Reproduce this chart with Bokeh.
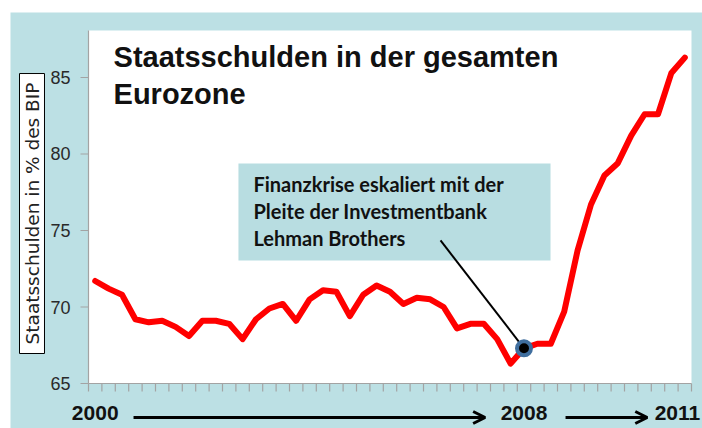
import numpy as np
from bokeh.plotting import figure
from bokeh.models import Range1d, Arrow, OpenHead, BoxAnnotation
from bokeh.core.properties import value
from bokeh.embed import file_html
from bokeh.resources import INLINE

# ---------------- data ----------------
quarters = ["2000Q1", "2000Q2", "2000Q3", "2000Q4", "2001Q1", "2001Q2", "2001Q3", "2001Q4",
            "2002Q1", "2002Q2", "2002Q3", "2002Q4", "2003Q1", "2003Q2", "2003Q3", "2003Q4",
            "2004Q1", "2004Q2", "2004Q3", "2004Q4", "2005Q1", "2005Q2", "2005Q3", "2005Q4",
            "2006Q1", "2006Q2", "2006Q3", "2006Q4", "2007Q1", "2007Q2", "2007Q3", "2007Q4",
            "2008Q1", "2008Q2", "2008Q3", "2008Q4", "2009Q1", "2009Q2", "2009Q3", "2009Q4",
            "2010Q1", "2010Q2", "2010Q3", "2010Q4", "2011Q1"]
debt = [71.7, 71.2, 70.8, 69.2, 69.0, 69.1, 68.7, 68.1, 69.1, 69.1, 68.9, 67.9,
        69.2, 69.9, 70.2, 69.1, 70.5, 71.1, 71.0, 69.4, 70.8, 71.4, 71.0, 70.2,
        70.6, 70.5, 70.0, 68.6, 68.9, 68.9, 67.9, 66.3, 67.3, 67.6, 67.6, 69.7,
        73.7, 76.7, 78.6, 79.4, 81.2, 82.6, 82.6, 85.3, 86.3]
y_ticks = [65, 70, 75, 80, 85]
year_labels = ["2000", "2008", "2011"]
year_index = [0, 32, 44]
lehman_index = 32

title_lines = ["Staatsschulden in der gesamten", "Eurozone"]
note_lines = ["Finanzkrise eskaliert mit der", "Pleite der  Investmentbank", "Lehman Brothers"]
y_label = "Staatsschulden in % des BIP"

BG = "#BCE0E4"
BOX = "#B8DDE1"
GRAY = "#A3A3A3"

n = len(quarters)
x = np.arange(n)

# plotting area extents (data units)
X_LO, X_HI = -0.5, n - 0.5
Y_LO, Y_HI = 65, 88.07
PX_X = 13.4   # px per quarter
PX_Y = 15.3   # px per percentage point

p = figure(width=692, height=416, output_backend="svg", toolbar_location=None,
           x_range=Range1d(-6.321, 45.321), y_range=Range1d(62.059, 89.248),
           min_border=0, margin=(12, 0, 0, 10))
p.axis.visible = False
p.grid.visible = False
p.background_fill_color = BG
p.border_fill_color = BG
p.outline_line_color = None

# white plotting area
p.add_layout(BoxAnnotation(left=X_LO, right=X_HI, bottom=Y_LO, top=Y_HI,
                           fill_color="white", fill_alpha=1.0, line_color=None, level="underlay"))
# annotation box
p.add_layout(BoxAnnotation(left=10.69, right=33.98, bottom=73.04, top=79.38,
                           fill_color=BOX, fill_alpha=1.0, line_color=None, level="underlay"))

# axes drawn from the scales
bounds = [i - 0.5 for i in range(n + 1)]
tick_len_y = 8 / PX_Y
tick_len_x = 8 / PX_X
p.segment(x0=[X_LO], y0=[Y_LO], x1=[X_HI], y1=[Y_LO], line_color=GRAY, line_width=1.2)
p.segment(x0=[X_LO], y0=[Y_LO], x1=[X_LO], y1=[Y_HI], line_color=GRAY, line_width=1.2)
p.segment(x0=bounds, y0=[Y_LO] * len(bounds), x1=bounds, y1=[Y_LO - tick_len_y] * len(bounds),
          line_color=GRAY, line_width=1.2)
p.segment(x0=[X_LO] * len(y_ticks), y0=y_ticks, x1=[X_LO - tick_len_x] * len(y_ticks), y1=y_ticks,
          line_color=GRAY, line_width=1.2)
p.text(x=[X_LO - 18 / PX_X] * len(y_ticks), y=y_ticks, text=[str(t) for t in y_ticks],
       text_align="right", text_baseline="middle", text_font=value("Liberation Sans"),
       text_font_size="18px", text_color="#2A2A2A")

# y label box
p.quad(left=[-5.649], right=[-3.784], bottom=[66.96], top=[85.26],
       fill_color="white", line_color="black", line_width=1)
p.text(x=[-4.716], y=[76.11], text=[y_label], angle=np.pi / 2, text_align="center",
       text_baseline="middle", text_font=value("DejaVu Sans"), text_font_size="18.5px",
       text_color="#222222")

# data line
p.line(x, debt, line_color="#FF0000", line_width=6, line_join="round", line_cap="round")

# pointer and marker
p.segment(x0=[25.77], y0=[74.35], x1=[lehman_index], y1=[debt[lehman_index]],
          line_color="black", line_width=2)
p.scatter([lehman_index], [debt[lehman_index]], size=14, fill_color="black",
          line_color="#3F6E9E", line_width=4)

# title
p.text(x=[1.37, 1.37], y=[86.37, 83.89], text=title_lines, text_font=value("Liberation Sans"),
       text_font_style="bold", text_font_size="29px", text_color="#111111",
       text_baseline="middle")

# note text
p.text(x=[11.81] * 3, y=[78.07, 76.25, 74.48], text=note_lines, text_font=value("Lato"),
       text_font_style="bold", text_font_size="20px", text_color="#111111",
       text_baseline="middle")

# year labels below axis (last one nudged so it stays inside the page)
label_shift = [0, 0, -0.55]
p.text(x=[i + s for i, s in zip(year_index, label_shift)], y=[63.1] * len(year_index),
       text=year_labels, text_align="center", text_baseline="middle",
       text_font=value("Liberation Sans"), text_font_style="bold",
       text_font_size="21px", text_color="#111111")

# arrows between year labels
for xs, xe in [(2.86, 29.1), (35.1, 41.2)]:
    p.add_layout(Arrow(x_start=xs, y_start=62.78, x_end=xe, y_end=62.78, line_width=3,
                       line_color="black",
                       end=OpenHead(size=12, line_width=3, line_color="black")))

open("out.html", "w").write(file_html(p, INLINE))
